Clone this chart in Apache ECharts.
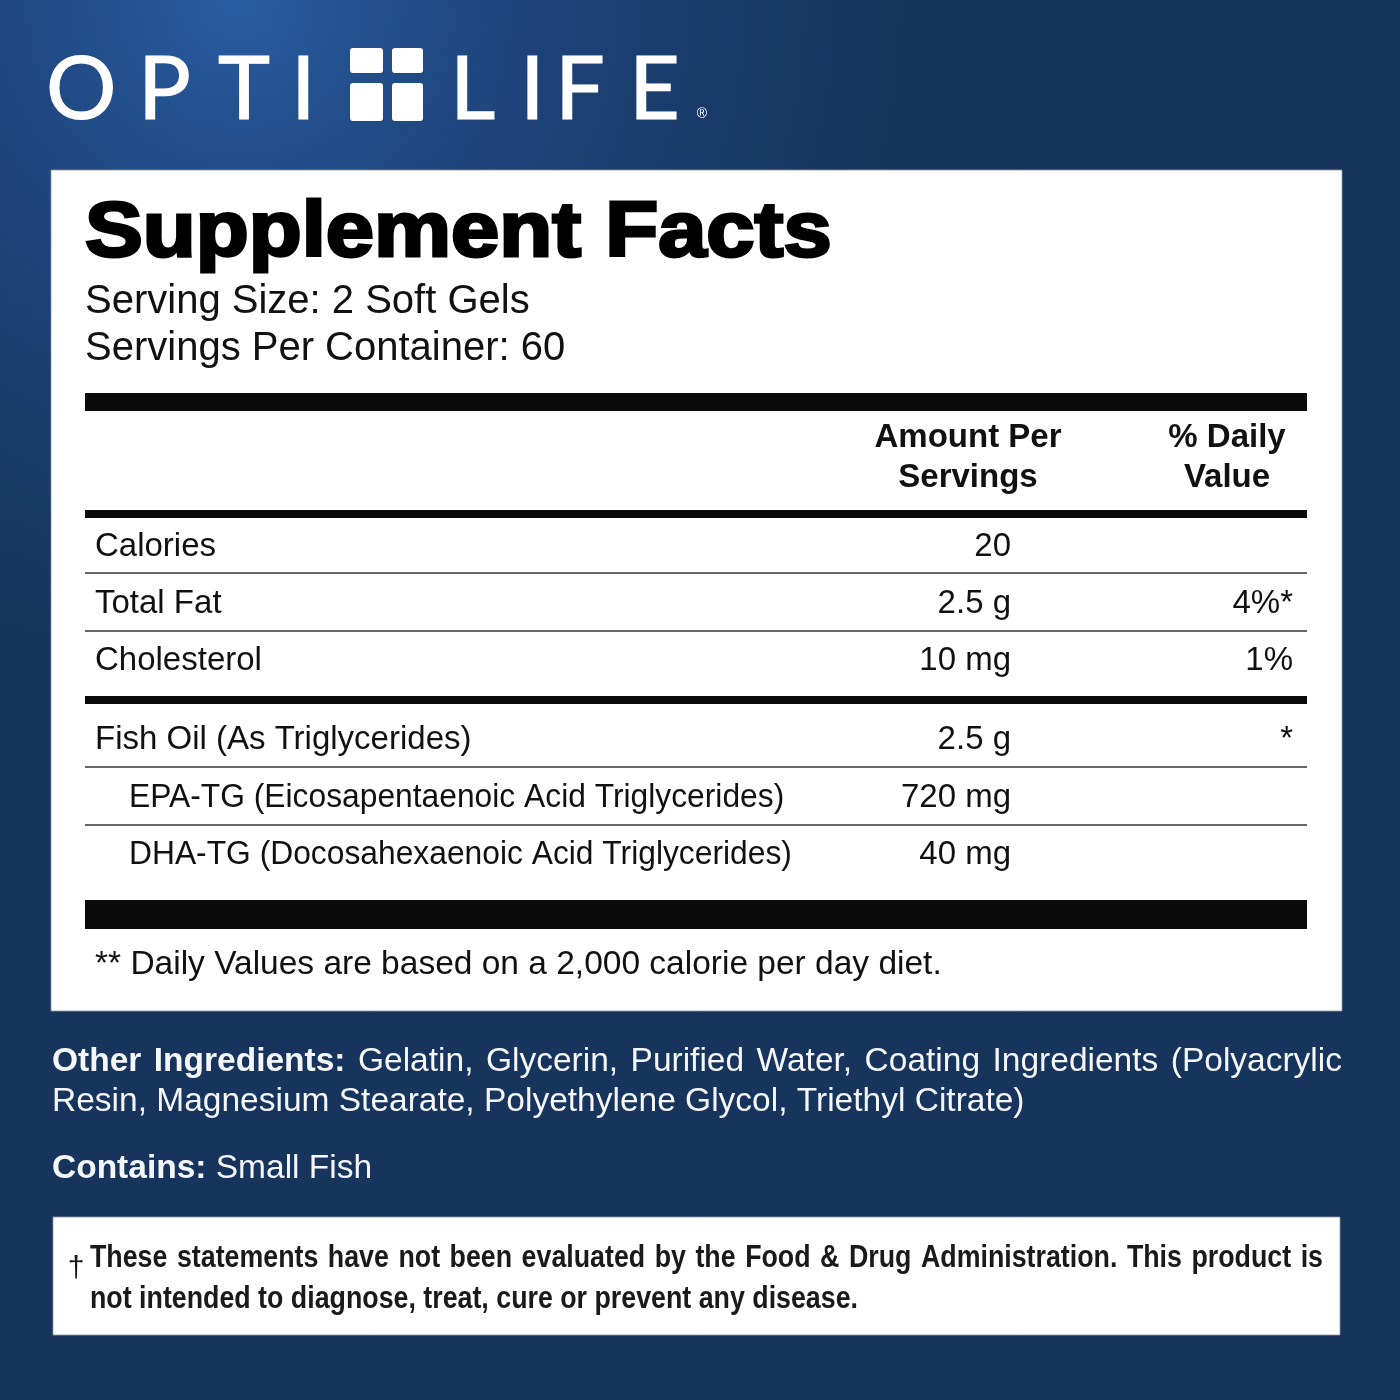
<!DOCTYPE html>
<html>
<head>
<meta charset="utf-8">
<script src="https://cdn.jsdelivr.net/npm/echarts@6/dist/echarts.min.js"></script>
<style>
html, body { margin: 0; padding: 0; background: #17345c; }
#chart { width: 1400px; height: 1400px; }
</style>
</head>
<body>
<div id="chart"></div>
<script>
// Label content
const brandLeft = ['O', 'P', 'T', 'I'];
const brandRight = ['L', 'I', 'F', 'E'];
const title = 'Supplement Facts';
const servingLines = ['Serving Size: 2 Soft Gels', 'Servings Per Container: 60'];
const columnHeads = [['Amount Per', 'Servings'], ['% Daily', 'Value']];
const rowLabels = ['Calories', 'Total Fat', 'Cholesterol', 'Fish Oil (As Triglycerides)',
    'EPA-TG (Eicosapentaenoic Acid Triglycerides)', 'DHA-TG (Docosahexaenoic Acid Triglycerides)'];
const rowAmounts = ['20', '2.5 g', '10 mg', '2.5 g', '720 mg', '40 mg'];
const rowDailyValues = ['', '4%*', '1%', '*', '', ''];
const rowIndented = [false, false, false, false, true, true];
const footnote = '** Daily Values are based on a 2,000 calorie per day diet.';
const otherLines = ['Gelatin, Glycerin, Purified Water, Coating Ingredients (Polyacrylic',
    'Resin, Magnesium Stearate, Polyethylene Glycol, Triethyl Citrate)'];
const containsText = 'Small Fish';
const disclaimerLines = ['These statements have not been evaluated by the Food & Drug Administration. This product is',
    'not intended to diagnose, treat, cure or prevent any disease.'];

const FONT = '"Liberation Sans", Arial, sans-serif';
const measureCtx = document.createElement('canvas').getContext('2d');
function textWidth(str, font) { measureCtx.font = font; return measureCtx.measureText(str).width; }

const els = [];
// y given as baseline, converted for canvas 'middle'
function txt(x, baseline, str, size, weight, fill, align, extra) {
    const font = (weight || 'normal') + ' ' + size + 'px ' + FONT;
    const el = {
        type: 'text', x: x, y: baseline - size * 0.31, z: 10,
        style: Object.assign({ text: str, font: font, fill: fill || '#111',
            align: align || 'left', textAlign: align || 'left',
            verticalAlign: 'middle', textVerticalAlign: 'middle' }, extra || {})
    };
    els.push(el);
    return el;
}
// spread words across [x0, x1]
function justify(words, x0, x1, baseline, size, fill, scale) {
    scale = scale || 1;
    const ws = words.map(w => textWidth(w.t, (w.b ? 'bold ' : 'normal ') + size + 'px ' + FONT) * scale);
    const gap = (x1 - x0 - ws.reduce((a, b) => a + b, 0)) / (words.length - 1);
    let x = x0;
    words.forEach((w, i) => {
        const el = txt(x, baseline, w.t, size, w.b ? 'bold' : 'normal', fill);
        if (scale !== 1) el.scaleX = scale;
        x += ws[i] + gap;
    });
}
function bar(y, h) {
    els.push({ type: 'rect', z: 5, shape: { x: 85, y: y, width: 1222, height: h }, style: { fill: '#0a0a0a' } });
}
function rule(y) {
    els.push({ type: 'line', z: 5, shape: { x1: 85, y1: y, x2: 1307, y2: y }, style: { stroke: '#333', lineWidth: 1.5 } });
}

// background
els.push({ type: 'rect', z: 0, shape: { x: 0, y: 0, width: 1400, height: 1400 }, style: { fill: '#17345c' } });
els.push({ type: 'rect', z: 1, shape: { x: 0, y: 0, width: 1400, height: 1400 },
    style: { fill: new echarts.graphic.RadialGradient(0.17, 0.0, 0.48, [
        { offset: 0, color: 'rgba(42,95,165,0.95)' },
        { offset: 0.45, color: 'rgba(35,80,145,0.55)' },
        { offset: 1, color: 'rgba(30,70,130,0)' }]) } });

// logo
const brandLeftX = [46, 138, 218, 291];
const brandRightX = [450, 520, 555, 629];
const logoStyle = { font: 'normal 88px Lato, sans-serif', fill: '#fff', stroke: '#fff', lineWidth: 1.2,
    align: 'left', verticalAlign: 'middle' };
brandLeft.forEach((c, i) => els.push({ type: 'text', z: 10, x: brandLeftX[i], y: 118 - 88 * 0.31,
    style: Object.assign({ text: c }, logoStyle) }));
brandRight.forEach((c, i) => els.push({ type: 'text', z: 10, x: brandRightX[i], y: 118 - 88 * 0.31,
    style: Object.assign({ text: c }, logoStyle) }));
els.push({ type: 'text', z: 10, x: 702, y: 114, style: { text: '®', font: 'normal 14px ' + FONT, fill: '#fff', align: 'center', verticalAlign: 'middle' } });
[[350, 48, 33, 25], [392, 48, 31, 25], [350, 83, 33, 38], [392, 83, 31, 38]].forEach(r => els.push({
    type: 'rect', z: 10, shape: { x: r[0], y: r[1], width: r[2], height: r[3], r: 3 }, style: { fill: '#fff' } }));

// facts panel
els.push({ type: 'rect', z: 2, shape: { x: 51, y: 170, width: 1291, height: 841 },
    style: { fill: '#ffffff', stroke: 'rgba(140,150,165,0.8)', lineWidth: 1 } });

const titleFont = 'bold 78px ' + FONT;
const titleScale = 750 / (textWidth(title, titleFont) + 3);
txt(85, 259, title, 78, 'bold', '#000', 'left', { stroke: '#000', lineWidth: 3 }).scaleX = titleScale;
servingLines.forEach((s, i) => txt(85, 314 + i * 47, s, 40));

bar(393, 18);
columnHeads.forEach((h, i) => h.forEach((s, j) => txt([968, 1227][i], 448 + j * 40, s, 33, 'bold', '#111', 'center')));
bar(510, 8);

const rowBaselines = [557, 614, 671, 750, 808, 865];
rowLabels.forEach((lab, i) => {
    const b = rowBaselines[i];
    const el = txt(rowIndented[i] ? 129 : 95, b, lab, 33);
    if (rowIndented[i]) el.scaleX = 0.963;
    txt(1011, b, rowAmounts[i], 33, 'normal', '#111', 'right');
    if (rowDailyValues[i]) txt(1293, b, rowDailyValues[i], 33, 'normal', '#111', 'right');
});
rule(573); rule(631);
bar(696, 8);
rule(767); rule(825);
bar(900, 29);
txt(95, 975, footnote, 33.5);

// other ingredients
const paraColor = '#f4f6f9';
const line1Words = [{ t: 'Other', b: true }, { t: 'Ingredients:', b: true }]
    .concat(otherLines[0].split(' ').map(t => ({ t: t, b: false })));
justify(line1Words, 52, 1342, 1072, 33.5, paraColor);
txt(52, 1112, otherLines[1], 33.5, 'normal', paraColor);
const containsLabel = 'Contains:';
txt(52, 1179, containsLabel, 33.5, 'bold', paraColor);
txt(52 + textWidth(containsLabel + ' ', 'bold 33.5px ' + FONT), 1179, containsText, 33.5, 'normal', paraColor);

// disclaimer box
els.push({ type: 'rect', z: 2, shape: { x: 53, y: 1217, width: 1287, height: 118 },
    style: { fill: '#ffffff', stroke: 'rgba(140,150,165,0.8)', lineWidth: 1 } });
const discScale = 768 / textWidth(disclaimerLines[1], 'bold 31px ' + FONT);
justify(disclaimerLines[0].split(' ').map(t => ({ t: t, b: true })), 90, 1323, 1268, 31, '#1a1a1a', discScale);
txt(90, 1309, disclaimerLines[1], 31, 'bold', '#1a1a1a').scaleX = discScale;
txt(76, 1278, '†', 30, 'normal', '#1a1a1a', 'center');

const chart = echarts.init(document.getElementById('chart'), null, { renderer: 'canvas', width: 1400, height: 1400 });
chart.setOption({ animation: false, graphic: { elements: els } });
</script>
</body>
</html>
